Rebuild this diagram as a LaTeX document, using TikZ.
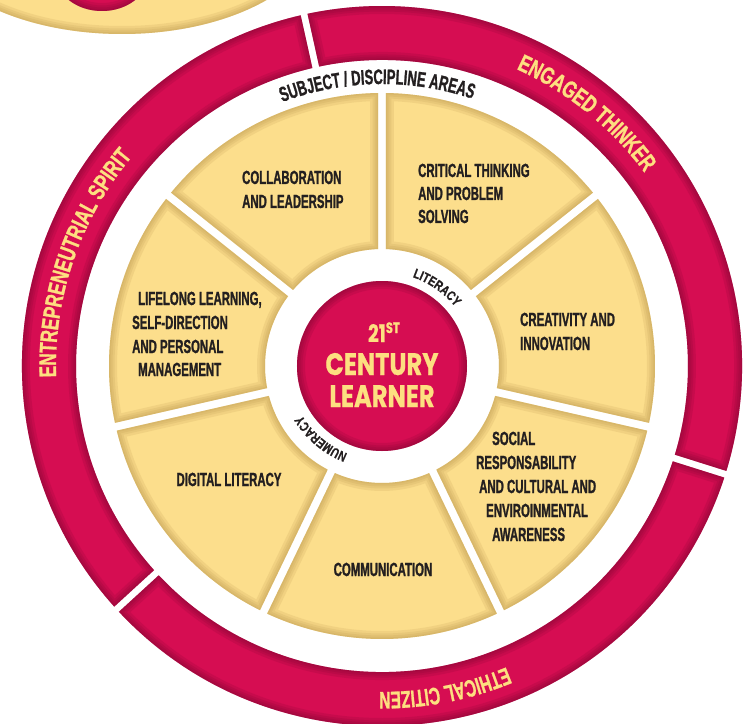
\documentclass[tikz,border=0pt]{standalone}
\usepackage{fontspec}
\usetikzlibrary{decorations.text}

\newfontfamily\itemfont[FakeStretch=0.6, FakeBold=1.1]{Liberation Sans}
\newfontfamily\ringfont[FakeStretch=0.71, FakeBold=1.1]{Liberation Sans}
\newfontfamily\citizenfont[FakeStretch=0.64, FakeBold=1.1]{Liberation Sans}
\newfontfamily\bandfont[FakeStretch=0.62, FakeBold=1.1]{Liberation Sans}
\newfontfamily\innerfont[FakeStretch=0.78, FakeBold=0.8]{Liberation Sans}
\newfontfamily\hubfont[FakeStretch=0.78, FakeBold=0.6]{Poppins}

\definecolor{crimson}{HTML}{D60D52}
\definecolor{crimsonedge}{HTML}{7A0530}
\definecolor{sand}{HTML}{FCDE8C}
\definecolor{sandedge}{HTML}{B8934A}
\definecolor{ink}{HTML}{231F20}
\definecolor{ringtext}{HTML}{FDDF80}

% annular sector from angle #1 to #2, radii #3 to #4, cut by straight gaps of half-width #5
\newcommand\annseg[5]{({#1+asin(#5/#4)}:#4) arc[start angle={#1+asin(#5/#4)}, end angle={#2-asin(#5/#4)}, radius=#4] -- ({#2-asin(#5/#3)}:#3) arc[start angle={#2-asin(#5/#3)}, end angle={#1+asin(#5/#3)}, radius=#3] -- cycle}

% fill a path, then darken it softly along the inside of its edge
\newcommand\softfill[3]{%
  \fill[#2] #1;
  \begin{scope}
    \clip #1;
    \foreach \w in {16,11,7,3}{\draw[#3, line width=\w pt, opacity=0.16] #1;}
  \end{scope}}

\begin{document}
\begin{tikzpicture}[x=1pt, y=1pt,
  itemtext/.style={inner sep=0pt, text=ink, font=\itemfont\bfseries\fontsize{19}{24}\selectfont},
  hubtext/.style={inner sep=0pt, text=ringtext, font=\hubfont\bfseries\fontsize{31}{31}\selectfont}]

\path[use as bounding box] (-382,-357) rectangle (370,366);
\clip (-382,-357) rectangle (370,366);

% neighbouring wheel, cut by the top edge
\softfill{(-260,442) ellipse[x radius=200, y radius=110]}{sand}{sandedge}
\softfill{(-280,391) ellipse[x radius=46, y radius=36]}{crimson}{crimsonedge}

% outer ring of three attributes
\foreach \a in {-17.5,102.5,222.5}{%
  \softfill{\annseg{\a}{\a+120}{306}{360}{3.5}}{crimson}{crimsonedge}}

% seven competency sectors
\foreach \k in {0,...,6}{%
  \pgfmathsetmacro\hi{90-\k*360/7}%
  \pgfmathsetmacro\lo{\hi-360/7}%
  \softfill{\annseg{\lo}{\hi}{117}{273}{4}}{sand}{sandedge}}

% hub
\softfill{(0,0) circle[radius=85]}{crimson}{crimsonedge}

% hub title
\node[hubtext, font=\hubfont\bfseries\fontsize{24}{24}\selectfont, anchor=base] (hub21) at (2,24) {21\raisebox{9pt}{\fontsize{15}{15}\selectfont ST}};
\node[hubtext, anchor=base] (hubc) at (0,-9) {CENTURY};
\node[hubtext, anchor=base] (hubl) at (0,-41) {LEARNER};

% ring labels
\path[decorate, decoration={text along path, text align=center, text color=ringtext,
  text={|\ringfont\bfseries\fontsize{24}{24}\selectfont|ENGAGED THINKER}}]
  (81:326) arc[start angle=81, end angle=21, radius=326];
\path[decorate, decoration={text along path, text align=center, text color=ringtext,
  text={|\ringfont\bfseries\fontsize{24}{24}\selectfont|ENTREPRENEUTRIAL SPIRIT}}]
  (201:326) arc[start angle=201, end angle=121, radius=326];
\path[decorate, decoration={text along path, text align=center, text color=ringtext,
  text={|\citizenfont\bfseries\fontsize{24}{24}\selectfont|ETHICAL CITIZEN}}]
  (316:326) arc[start angle=316, end angle=246, radius=326];

% band and hub-ring labels
\path[decorate, decoration={text along path, text align=center, text color=ink,
  text={|\bandfont\bfseries\fontsize{21}{21}\selectfont|SUBJECT / DISCIPLINE AREAS}}]
  (126:282) arc[start angle=126, end angle=56, radius=282];
\path[decorate, decoration={text along path, text align=center, text color=ink,
  text={|\innerfont\bfseries\fontsize{13.5}{13.5}\selectfont|LITERACY}}]
  (100:94) arc[start angle=100, end angle=10, radius=94];
\path[decorate, decoration={text along path, text align=center, text color=ink,
  text={|\innerfont\bfseries\fontsize{13.5}{13.5}\selectfont|NUMERACY}}]
  (275:94) arc[start angle=275, end angle=185, radius=94];

% competencies
\node[itemtext, anchor=base west] (col1) at (-140,182) {COLLABORATION};
\node[itemtext, anchor=base west] (col2) at (-140,158) {AND LEADERSHIP};

\node[itemtext, anchor=base west] (cri1) at (36,189) {CRITICAL THINKING};
\node[itemtext, anchor=base west] (cri2) at (36,166) {AND PROBLEM};
\node[itemtext, anchor=base west] (cri3) at (36,143) {SOLVING};

\node[itemtext, anchor=base west] (cre1) at (138,40) {CREATIVITY AND};
\node[itemtext, anchor=base west] (cre2) at (138,16) {INNOVATION};

\node[itemtext, anchor=base west] (soc1) at (110,-79) {SOCIAL};
\node[itemtext, anchor=base west] (soc2) at (94,-103) {RESPONSABILITY};
\node[itemtext, anchor=base west] (soc3) at (97,-127) {AND CULTURAL AND};
\node[itemtext, anchor=base west] (soc4) at (104,-151) {ENVIROINMENTAL};
\node[itemtext, anchor=base west] (soc5) at (110,-175) {AWARENESS};

\node[itemtext, anchor=base] (com) at (1,-210) {COMMUNICATION};

\node[itemtext, anchor=base] (dig) at (-153,-120) {DIGITAL LITERACY};

\node[itemtext, anchor=base west] (lif1) at (-244,61) {LIFELONG LEARNING,};
\node[itemtext, anchor=base west] (lif2) at (-250,37) {SELF-DIRECTION};
\node[itemtext, anchor=base west] (lif3) at (-250,13) {AND PERSONAL};
\node[itemtext, anchor=base west] (lif4) at (-244,-10) {MANAGEMENT};

\end{tikzpicture}
\end{document}
